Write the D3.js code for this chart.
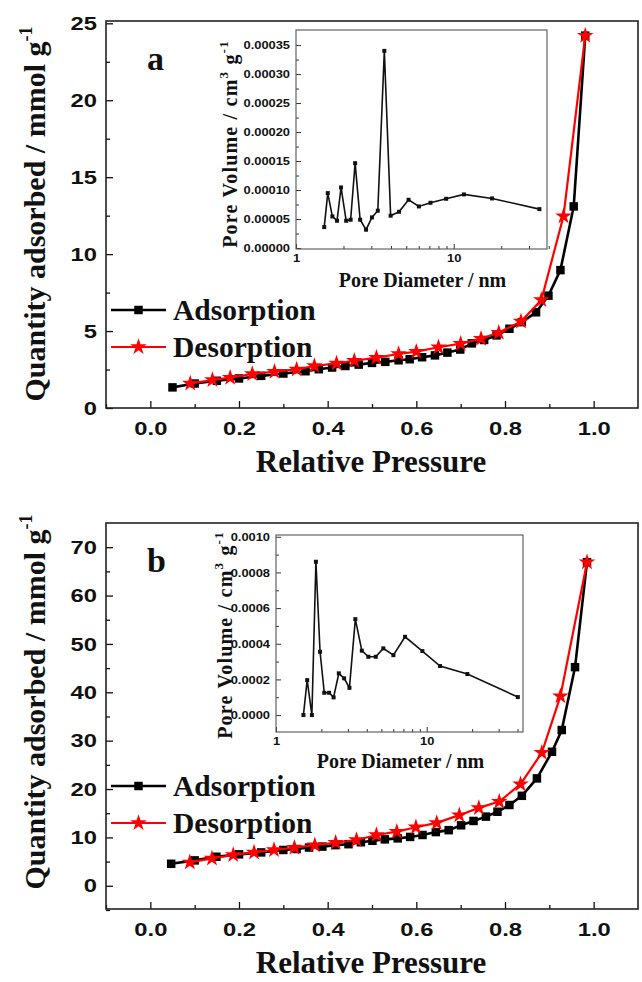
<!DOCTYPE html>
<html>
<head>
<meta charset="utf-8">
<script src="https://cdn.jsdelivr.net/npm/d3@7"></script>
<style>
  body { margin: 0; background: #fff; }
  svg { display: block; }
  .serif { font-family: "Liberation Serif", "Times New Roman", serif; font-weight: bold; }
  .sans { font-family: "Liberation Sans", Arial, sans-serif; font-weight: bold; }
</style>
</head>
<body>
<svg id="fig" width="642" height="982"></svg>
<script>
// ---- Sample a: N2 isotherm ----
const adsPressureA = [0.05,0.10,0.15,0.20,0.25,0.30,0.35,0.38,0.41,0.44,0.47,0.50,0.53,0.56,0.585,0.613,0.642,0.670,0.699,0.725,0.753,0.781,0.810,0.838,0.870,0.898,0.925,0.955,0.981];
const adsQuantityA = [1.34,1.59,1.77,1.92,2.09,2.24,2.39,2.52,2.63,2.73,2.82,2.93,3.00,3.10,3.17,3.30,3.42,3.60,3.80,4.20,4.42,4.72,5.15,5.58,6.22,7.30,8.96,13.1,24.2];
const desPressureA = [0.09,0.14,0.18,0.23,0.28,0.33,0.37,0.42,0.46,0.51,0.56,0.60,0.65,0.70,0.746,0.786,0.836,0.882,0.932,0.981];
const desQuantityA = [1.60,1.82,1.97,2.21,2.36,2.51,2.73,2.90,3.07,3.27,3.51,3.66,3.95,4.18,4.50,4.90,5.62,7.02,12.47,24.2];

// ---- Sample a: pore size distribution ----
const poreDiameterA = [1.51,1.59,1.70,1.82,1.93,2.08,2.22,2.37,2.55,2.78,3.03,3.30,3.63,3.98,4.50,5.17,6.01,7.12,8.95,11.6,17.5,34.9];
const poreVolumeA = [0.0000361,0.0000947,0.0000545,0.000047,0.0001044,0.000047,0.0000488,0.0001463,0.0000488,0.0000316,0.0000528,0.0000643,0.00034,0.0000557,0.0000625,0.0000832,0.0000717,0.000078,0.0000849,0.0000924,0.0000855,0.0000671];

// ---- Sample b: N2 isotherm ----
const adsPressureB = [0.047,0.10,0.149,0.20,0.25,0.30,0.33,0.358,0.388,0.417,0.447,0.475,0.501,0.529,0.558,0.586,0.614,0.644,0.673,0.701,0.729,0.757,0.783,0.810,0.838,0.872,0.906,0.928,0.958,0.985];
const adsQuantityB = [4.55,5.25,6.0,6.5,6.9,7.4,7.6,7.9,8.1,8.4,8.6,9.0,9.3,9.6,9.8,10.1,10.5,11.1,11.5,12.5,13.4,14.3,15.3,16.7,18.6,22.2,27.7,32.2,45.2,66.9];
const desPressureB = [0.089,0.139,0.187,0.234,0.279,0.325,0.371,0.418,0.465,0.510,0.556,0.599,0.646,0.697,0.741,0.787,0.835,0.883,0.925,0.985];
const desQuantityB = [4.85,5.66,6.36,6.9,7.4,7.87,8.4,8.9,9.46,10.5,11.2,12.1,13.0,14.6,16.1,17.4,21.0,27.5,39.2,66.9];

// ---- Sample b: pore size distribution ----
const poreDiameterB = [1.52,1.61,1.73,1.84,1.96,2.09,2.25,2.41,2.61,2.83,3.07,3.36,3.71,4.10,4.59,5.15,6.01,7.18,9.35,12.25,18.6,40.2];
const poreVolumeB = [0,0.000196,0,0.00086,0.000355,0.000125,0.000125,0.0000991,0.000234,0.000206,0.000153,0.000538,0.000361,0.000327,0.000327,0.000374,0.000336,0.000439,0.000359,0.000275,0.00023,0.000101];

// ---- Axis ticks and labels ----
const pressureTicks = [0.0, 0.2, 0.4, 0.6, 0.8, 1.0];
const pressureMinorTicks = [-0.1, 0.1, 0.3, 0.5, 0.7, 0.9];
const quantityTicksA = [0, 5, 10, 15, 20, 25];
const quantityMinorA = [2.5, 7.5, 12.5, 17.5, 22.5];
const quantityTicksB = [0, 10, 20, 30, 40, 50, 60, 70];
const quantityMinorB = [-5, 5, 15, 25, 35, 45, 55, 65];
const diameterTicks = [1, 10];
const diameterMinor = [2,3,4,5,6,7,8,9,20,30,40];
const volumeTicksA = [0, 0.00005, 0.0001, 0.00015, 0.0002, 0.00025, 0.0003, 0.00035];
const volumeMinorA = [0.000025, 0.000075, 0.000125, 0.000175, 0.000225, 0.000275, 0.000325];
const volumeTicksB = [0, 0.0002, 0.0004, 0.0006, 0.0008, 0.0010];
const volumeMinorB = [0.0001, 0.0003, 0.0005, 0.0007, 0.0009];
const seriesNames = ["Adsorption", "Desorption"];
const panelLetters = ["a", "b"];

const svg = d3.select("#fig");
const BLACK = "#000";
const RED = "#ff0000";

function zipXY(xs, ys) { return xs.map((x, i) => [x, ys[i]]); }

// widen axis numerals horizontally around their anchor point
function widenLabels(sel, sx, anchorX) {
  sel.each(function () {
    const t = d3.select(this);
    const ax = anchorX != null ? anchorX : +t.attr("x") || 0;
    t.attr("transform", `translate(${ax},0) scale(${sx},1) translate(${-ax},0)`);
  });
}

function drawMain(cfg) {
  const g = svg.append("g");
  const x = d3.scaleLinear().domain([-0.1, 1.1]).range([cfg.left, cfg.right]);
  const y = d3.scaleLinear().domain(cfg.yDomain).range([cfg.bottom, cfg.top]);

  // minor ticks
  g.append("g").attr("transform", `translate(0,${cfg.bottom})`)
    .call(d3.axisBottom(x).tickValues(pressureMinorTicks).tickSize(-4).tickFormat(""))
    .call(s => s.select(".domain").remove());
  g.append("g").attr("transform", `translate(${cfg.left},0)`)
    .call(d3.axisLeft(y).tickValues(cfg.yMinor).tickSize(-4).tickFormat(""))
    .call(s => s.select(".domain").remove());

  // major ticks + labels
  const xa = g.append("g").attr("transform", `translate(0,${cfg.bottom})`)
    .call(d3.axisBottom(x).tickValues(pressureTicks).tickSize(-7).tickPadding(14).tickFormat(d3.format(".1f")));
  xa.select(".domain").remove();
  const ya = g.append("g").attr("transform", `translate(${cfg.left},0)`)
    .call(d3.axisLeft(y).tickValues(cfg.yTicks).tickSize(-7).tickPadding(9).tickFormat(d3.format("d")));
  ya.select(".domain").remove();
  g.selectAll(".tick line").attr("stroke", "#111").attr("stroke-width", 1.3);
  g.selectAll(".tick text").attr("class", "sans").attr("font-size", 19).attr("fill", "#111");
  widenLabels(xa.selectAll(".tick text"), 1.25, 0);
  widenLabels(ya.selectAll(".tick text"), 1.25, -9);

  // frame
  g.append("rect").attr("x", cfg.left).attr("y", cfg.top)
    .attr("width", cfg.right - cfg.left).attr("height", cfg.bottom - cfg.top)
    .attr("fill", "none").attr("stroke", "#222").attr("stroke-width", 1.6);

  const line = d3.line().x(d => x(d[0])).y(d => y(d[1]));
  const ads = zipXY(cfg.adsX, cfg.adsY);
  const des = zipXY(cfg.desX, cfg.desY);

  g.append("path").datum(ads).attr("d", line).attr("fill", "none").attr("stroke", BLACK).attr("stroke-width", 2.6);
  g.selectAll(".sq").data(ads).join("path")
    .attr("transform", d => `translate(${x(d[0])},${y(d[1])})`)
    .attr("d", d3.symbol(d3.symbolSquare, 72)).attr("fill", BLACK);

  g.append("path").datum(des).attr("d", line).attr("fill", "none").attr("stroke", RED).attr("stroke-width", 2.2);
  g.selectAll(".st").data(des).join("path")
    .attr("transform", d => `translate(${x(d[0])},${y(d[1])})`)
    .attr("d", d3.symbol(d3.symbolStar, 85)).attr("fill", RED);

  // legend
  const legend = g.append("g");
  [[seriesNames[0], BLACK, d3.symbolSquare, 72, cfg.legendY], [seriesNames[1], RED, d3.symbolStar, 85, cfg.legendY + 37]]
    .forEach(([name, color, sym, size, ly], i) => {
      legend.append("line").attr("x1", 111).attr("x2", 166).attr("y1", ly).attr("y2", ly)
        .attr("stroke", color).attr("stroke-width", i === 0 ? 2.6 : 2.2);
      legend.append("path").attr("transform", `translate(138.5,${ly})`)
        .attr("d", d3.symbol(sym, size)).attr("fill", color);
      legend.append("text").attr("class", "serif").attr("x", 173).attr("y", ly + 9.5)
        .attr("font-size", 29.5).attr("fill", "#111").text(name);
    });

  // panel letter
  g.append("text").attr("class", "serif").attr("x", 147).attr("y", cfg.top + 49)
    .attr("font-size", 34).attr("fill", "#111").text(cfg.letter);

  // axis titles
  g.append("text").attr("class", "serif").attr("x", 371).attr("y", cfg.bottom + 64)
    .attr("text-anchor", "middle").attr("font-size", 31).attr("fill", "#111").text("Relative Pressure");
  const yt = g.append("text").attr("class", "serif")
    .attr("transform", `translate(45,${cfg.yTitleCenter}) rotate(-90)`)
    .attr("text-anchor", "middle").attr("font-size", 30).attr("fill", "#111");
  yt.append("tspan").text("Quantity adsorbed / mmol g");
  yt.append("tspan").attr("dy", -13).attr("font-size", 18).text("-1");
}

function drawInset(cfg) {
  const g = svg.append("g");
  const x = d3.scaleLog().domain(cfg.xDomain).range([cfg.left, cfg.right]);
  const y = d3.scaleLinear().domain(cfg.yDomain).range([cfg.bottom, cfg.top]);

  g.append("rect").attr("x", cfg.left).attr("y", cfg.top)
    .attr("width", cfg.right - cfg.left).attr("height", cfg.bottom - cfg.top)
    .attr("fill", "#fff").attr("stroke", "none");

  g.append("g").attr("transform", `translate(0,${cfg.bottom})`)
    .call(d3.axisBottom(x).tickValues(diameterMinor).tickSize(-3).tickFormat(""))
    .call(s => s.select(".domain").remove());
  g.append("g").attr("transform", `translate(${cfg.left},0)`)
    .call(d3.axisLeft(y).tickValues(cfg.yMinor).tickSize(-3).tickFormat(""))
    .call(s => s.select(".domain").remove());
  const xa = g.append("g").attr("transform", `translate(0,${cfg.bottom})`)
    .call(d3.axisBottom(x).tickValues(diameterTicks).tickSize(-5).tickPadding(5).tickFormat(d3.format("d")))
    .call(s => s.select(".domain").remove());
  const ya = g.append("g").attr("transform", `translate(${cfg.left},0)`)
    .call(d3.axisLeft(y).tickValues(cfg.yTicks).tickSize(-5).tickPadding(6).tickFormat(d3.format(cfg.yFormat)))
    .call(s => s.select(".domain").remove());
  g.selectAll(".tick line").attr("stroke", "#333").attr("stroke-width", 1);
  g.selectAll(".tick text").attr("class", "sans").attr("font-size", 11.5).attr("fill", "#111");
  widenLabels(xa.selectAll(".tick text"), 1.12, 0);
  widenLabels(ya.selectAll(".tick text"), 1.12, -6);

  g.append("rect").attr("x", cfg.left).attr("y", cfg.top)
    .attr("width", cfg.right - cfg.left).attr("height", cfg.bottom - cfg.top)
    .attr("fill", "none").attr("stroke", "#555").attr("stroke-width", 1.1);

  const pts = zipXY(cfg.xs, cfg.ys);
  g.append("path").datum(pts)
    .attr("d", d3.line().x(d => x(d[0])).y(d => y(d[1])))
    .attr("fill", "none").attr("stroke", "#111").attr("stroke-width", 1.6);
  g.selectAll(".m").data(pts).join("path")
    .attr("transform", d => `translate(${x(d[0])},${y(d[1])})`)
    .attr("d", d3.symbol(d3.symbolSquare, 16)).attr("fill", "#111");

  g.append("text").attr("class", "serif").attr("x", (cfg.left + cfg.right) / 2 + 1).attr("y", cfg.xTitleY)
    .attr("text-anchor", "middle").attr("font-size", 20).attr("fill", "#111").text("Pore Diameter / nm");
  const yt = g.append("text").attr("class", "serif")
    .attr("transform", `translate(${cfg.yTitleX},${(cfg.top + cfg.bottom) / 2 + cfg.yTitleShift}) rotate(-90)`)
    .attr("text-anchor", "middle").attr("font-size", 20).attr("letter-spacing", 1.2).attr("fill", "#111");
  yt.append("tspan").text("Pore Volume / cm");
  yt.append("tspan").attr("dy", -9).attr("font-size", 13).text("3");
  yt.append("tspan").attr("dy", 9).text(" g");
  yt.append("tspan").attr("dy", -9).attr("font-size", 13).text("-1");
}

drawMain({
  left: 106, right: 638, top: 21, bottom: 408,
  yDomain: [0, 25.15], yTicks: quantityTicksA, yMinor: quantityMinorA,
  adsX: adsPressureA, adsY: adsQuantityA, desX: desPressureA, desY: desQuantityA,
  legendY: 310, letter: panelLetters[0], yTitleCenter: 214
});
drawInset({
  left: 296, right: 547, top: 30, bottom: 249,
  xDomain: [1, 39], yDomain: [-0.0000017, 0.000376],
  yTicks: volumeTicksA, yMinor: volumeMinorA, yFormat: ".5f",
  xs: poreDiameterA, ys: poreVolumeA, xTitleY: 287, yTitleX: 237, yTitleShift: 4.5
});

drawMain({
  left: 106, right: 638, top: 523, bottom: 909,
  yDomain: [-4.8, 75], yTicks: quantityTicksB, yMinor: quantityMinorB,
  adsX: adsPressureB, adsY: adsQuantityB, desX: desPressureB, desY: desQuantityB,
  legendY: 786, letter: panelLetters[1], yTitleCenter: 702
});
drawInset({
  left: 276, right: 523, top: 535, bottom: 732,
  xDomain: [1, 43.5], yDomain: [-0.000095, 0.00101],
  yTicks: volumeTicksB, yMinor: volumeMinorB, yFormat: ".4f",
  xs: poreDiameterB, ys: poreVolumeB, xTitleY: 768, yTitleX: 232, yTitleShift: 1.5
});
</script>
</body>
</html>
